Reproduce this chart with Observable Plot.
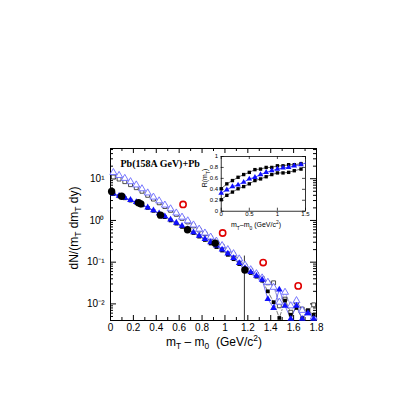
<!DOCTYPE html>
<html><head><meta charset="utf-8">
<script src="https://cdn.jsdelivr.net/npm/d3@7"></script>
<script src="https://cdn.jsdelivr.net/npm/@observablehq/plot@0.6"></script>
<style>
body{margin:0;background:#fff;}
#wrap{position:relative;width:402px;height:402px;font-family:"Liberation Sans",Arial,sans-serif;overflow:hidden;}
#wrap svg{position:absolute;}
.lab{position:absolute;white-space:nowrap;color:#000;line-height:1;}
.lab sub,.lab sup{font-size:70%;line-height:0;}
</style></head><body><div id="wrap"></div>
<script>
// ---- main panel data ----
const mX = [0.025,0.075,0.125,0.175,0.225,0.275,0.325,0.375,0.425,0.475,0.525,0.575,0.625,0.675,0.725,0.775,0.825,0.875,0.925,0.975,1.025,1.075,1.125,1.175,1.225,1.275,1.325,1.375,1.425,1.475,1.525,1.575,1.625,1.675,1.725,1.775];
const triOpen = [14.1,12.0,10.2,8.5,7.1,5.75,4.57,3.63,2.95,2.34,1.9,1.51,1.2,0.98,0.78,0.62,0.5,0.4,0.32,0.25,0.2,0.16,0.12,0.085,0.066,0.053,0.042,0.033,0.025,0.011,0.019,0.009,0.012,0.007,0.006,0.0048];
const sqOpen  = [11.0,9.8,8.5,7.2,6.1,5.0,4.0,3.25,2.65,2.15,1.75,1.4,1.12,0.92,0.74,0.59,0.48,0.38,0.30,0.24,0.19,0.15,0.115,0.082,0.064,0.051,0.041,0.032,0.032,0.009,0.013,0.0063,0.011,0.0075,0.0068,0.0095];
const triFill = [4.4,3.9,3.5,3.1,2.75,2.4,2.05,1.75,1.48,1.25,1.05,0.88,0.74,0.62,0.52,0.43,0.36,0.30,0.25,0.20,0.16,0.125,0.095,0.072,0.058,0.047,0.038,0.013,0.008,0.022,0.009,0.0044,0.009,0.0044,0.006,0.0044];
const sqFill  = [4.3,3.8,3.4,3.0,2.65,2.3,2.0,1.7,1.43,1.2,1.0,0.84,0.70,0.59,0.5,0.41,0.34,0.28,0.23,0.19,0.15,0.118,0.09,0.069,0.055,0.045,0.036,0.02,0.011,0.0046,0.012,0.0055,0.008,0.0045,0.007,0.0055];
const dataX = [0.01,0.097,0.245,0.265,0.437,0.673,0.915,1.174];
const dataY = [4.97,3.8,2.65,2.5,1.34,0.60,0.286,0.065];
const redX = [0.634,0.98,1.334,1.64];
const redY = [2.42,0.50,0.098,0.027];
const cutX = [1.17], cutTop = [0.14], cutBottom = [0.004];
const xMajor = [0,0.2,0.4,0.6,0.8,1,1.2,1.4,1.6,1.8];
const xMinor = [0.1,0.3,0.5,0.7,0.9,1.1,1.3,1.5,1.7];
const yMajor = [10,1,0.1,0.01];
const yMajorLabels = ["10\u00B9","10\u2070","10\u207B\u00B9","10\u207B\u00B2"];
const yDomain = [0.004,53];
// ---- inset data ----
const rX = [0,0.1,0.2,0.3,0.4,0.5,0.6,0.7,0.8,0.9,1.0,1.1,1.2,1.3,1.42];
const rUpper = [0.41,0.50,0.56,0.62,0.67,0.71,0.76,0.77,0.80,0.80,0.83,0.83,0.85,0.85,0.87];
const rMid   = [0.33,0.39,0.45,0.48,0.53,0.59,0.62,0.67,0.71,0.74,0.77,0.79,0.80,0.83,0.85];
const rLower = [0.21,0.29,0.35,0.41,0.45,0.50,0.56,0.59,0.63,0.67,0.70,0.70,0.71,0.74,0.77];
const rxTicks = [0,0.5,1,1.5];
const ryTicks = [0,0.2,0.4,0.6,0.8,1];

const yMinor = d3.scaleLog().domain(yDomain).ticks().filter(v => !yMajor.some(m => Math.abs(m - v) < 1e-12));
const pts = (xa, ya) => xa.map((x, i) => ({x, y: ya[i]}));

const L = 110, R = 86, T = 148, B = 82;
const PW = 402 - L - R, PH = 402 - T - B;
const font = "Liberation Sans, Arial, sans-serif";

const main = Plot.plot({
  width: 402, height: 402,
  marginLeft: L, marginRight: R, marginTop: T, marginBottom: B,
  x: {domain: [0, 1.8]},
  y: {type: "log", domain: yDomain},
  style: {fontFamily: font, fontSize: "10px", background: "transparent", color: "#000"},
  marks: [
    Plot.frame({stroke: "#000", strokeWidth: 1}),
    Plot.tickX(xMajor, {x: d => d, insetTop: PH - 5, stroke: "#000"}),
    Plot.tickX(xMajor, {x: d => d, insetBottom: PH - 5, stroke: "#000"}),
    Plot.tickX(xMinor, {x: d => d, insetTop: PH - 3, stroke: "#000"}),
    Plot.tickX(xMinor, {x: d => d, insetBottom: PH - 3, stroke: "#000"}),
    Plot.tickY(yMajor, {y: d => d, insetRight: PW - 6, stroke: "#000"}),
    Plot.tickY(yMajor, {y: d => d, insetLeft: PW - 6, stroke: "#000"}),
    Plot.tickY(yMinor, {y: d => d, insetRight: PW - 3, stroke: "#000"}),
    Plot.tickY(yMinor, {y: d => d, insetLeft: PW - 3, stroke: "#000"}),
    Plot.axisX({ticks: xMajor, tickSize: 0, tickPadding: 3, label: null, tickFormat: d => String(+d.toFixed(1)), fontSize: 10}),
    Plot.axisY({ticks: yMajor, tickSize: 0, tickPadding: 6, label: null, tickFormat: (d, i) => yMajorLabels[yMajor.indexOf(d)], fontSize: 10}),
    Plot.ruleX(cutX.map((x, i) => ({x, y1: cutTop[i], y2: cutBottom[i]})), {x: "x", y1: "y1", y2: "y2", stroke: "#333", strokeWidth: 1}),
    Plot.line(pts(mX, sqOpen), {x: "x", y: "y", stroke: "#777", strokeWidth: 0.7, strokeDasharray: "3,2"}),
    Plot.line(pts(mX, triOpen), {x: "x", y: "y", stroke: "#8f8fe8", strokeWidth: 0.7}),
    Plot.line(pts(mX, sqFill), {x: "x", y: "y", stroke: "#444", strokeWidth: 0.7, strokeDasharray: "4,2,1,2"}),
    Plot.line(pts(mX, triFill), {x: "x", y: "y", stroke: "#3a3aff", strokeWidth: 0.7}),
    Plot.dot(pts(mX, sqOpen), {x: "x", y: "y", symbol: "square", r: 2.2, stroke: "#222", fill: "#fff", strokeWidth: 0.8}),
    Plot.dot(pts(mX, triOpen), {x: "x", y: "y", symbol: "triangle", r: 2.6, stroke: "#6a6aff", fill: "#fff", strokeWidth: 0.9}),
    Plot.dot(pts(mX, sqFill), {x: "x", y: "y", symbol: "square", r: 2.1, fill: "#000"}),
    Plot.dot(pts(mX, triFill), {x: "x", y: "y", symbol: "triangle", r: 2.5, fill: "#1010ff"}),
    Plot.dot(pts(dataX, dataY), {x: "x", y: "y", r: 3.7, fill: "#000"}),
    Plot.dot(pts(redX, redY), {x: "x", y: "y", r: 3.1, stroke: "#e00000", strokeWidth: 1.6, fill: "none"}),
    Plot.text(["Pb(158A GeV)+Pb"], {frameAnchor: "top-left", dx: 10, dy: 11, text: d => d, fontFamily: "Liberation Serif, Times New Roman, serif", fontWeight: "bold", fontSize: 10, textAnchor: "start"})
  ]
});
main.style.left = "0px"; main.style.top = "0px";

// inset
const IL = 190, IT = 150;
const iml = 220.7 - IL, imt = 156 - IT, iw = 125, ih = 70;
const imr = iw - (305 - IL), imb = ih - (210.7 - IT);
const IPW = iw - iml - imr, IPH = ih - imt - imb;
const inset = Plot.plot({
  width: iw, height: ih,
  marginLeft: iml, marginRight: imr, marginTop: imt, marginBottom: imb,
  x: {domain: [0, 1.5]},
  y: {domain: [0, 1]},
  style: {fontFamily: font, fontSize: "6px", background: "transparent", color: "#000"},
  marks: [
    Plot.frame({stroke: "#000", strokeWidth: 0.8}),
    Plot.tickX(rxTicks, {x: d => d, insetTop: IPH - 3, stroke: "#000", strokeWidth: 0.7}),
    Plot.tickX(rxTicks, {x: d => d, insetBottom: IPH - 3, stroke: "#000", strokeWidth: 0.7}),
    Plot.tickY(ryTicks, {y: d => d, insetRight: IPW - 3, stroke: "#000", strokeWidth: 0.7}),
    Plot.tickY(ryTicks, {y: d => d, insetLeft: IPW - 3, stroke: "#000", strokeWidth: 0.7}),
    Plot.axisX({ticks: rxTicks, tickSize: 0, tickPadding: 1, label: null, tickFormat: d => String(d), fontSize: 6}),
    Plot.axisY({ticks: ryTicks, tickSize: 0, tickPadding: 3, label: null, tickFormat: d => String(d), fontSize: 6}),
    Plot.line(pts(rX.concat([1.5]), rMid.concat([0.88])), {x: "x", y: "y", stroke: "#2020ff", strokeWidth: 0.8}),
    Plot.line(pts(rX, rUpper), {x: "x", y: "y", stroke: "#000", strokeWidth: 0.6}),
    Plot.line(pts(rX, rLower), {x: "x", y: "y", stroke: "#000", strokeWidth: 0.6}),
    Plot.dot(pts(rX, rUpper), {x: "x", y: "y", symbol: "square", r: 1.9, fill: "#000"}),
    Plot.dot(pts(rX, rLower), {x: "x", y: "y", symbol: "square", r: 1.9, fill: "#000"}),
    Plot.dot(pts(rX, rMid), {x: "x", y: "y", symbol: "triangle", r: 2.1, fill: "#1010ff"})
  ]
});
inset.style.left = IL + "px"; inset.style.top = IT + "px";

const wrap = document.getElementById("wrap");
wrap.appendChild(main);
wrap.appendChild(inset);

function addLabel(html, x, y, size, rotate) {
  const d = document.createElement("div");
  d.className = "lab";
  d.innerHTML = html;
  d.style.fontSize = size + "px";
  d.style.left = x + "px"; d.style.top = y + "px";
  d.style.transform = "translate(-50%,-50%)" + (rotate ? " rotate(-90deg)" : "");
  wrap.appendChild(d);
}
addLabel("m<sub>T</sub> \u2013 m<sub>0</sub> &nbsp;(GeV/c<sup>2</sup>)", 214, 342, 12, false);
addLabel("dN/(m<sub>T</sub> dm<sub>T</sub> dy)", 74, 228, 12, true);
addLabel("m<sub>T</sub>\u2013m<sub>0</sub> (GeV/c<sup>2</sup>)", 256, 224.5, 7, false);
addLabel("R(m<sub>T</sub>)", 205, 178, 7, true);
</script></body></html>
